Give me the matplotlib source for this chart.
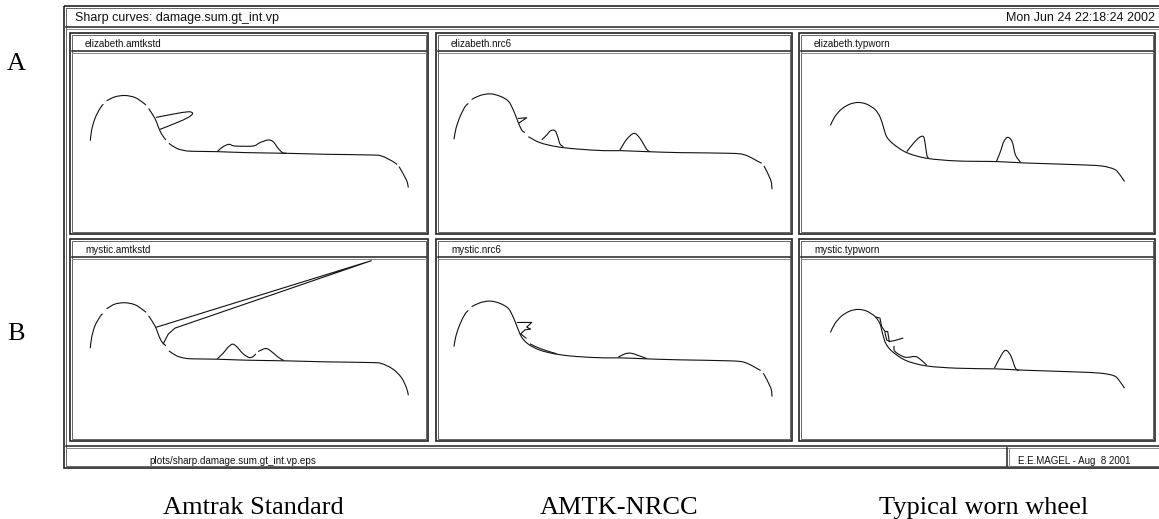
# -*- coding: utf-8 -*-
"""
Sharp curves damage sheet, six wheel/rail profile panels
"""
import matplotlib
matplotlib.use("Agg")
import matplotlib.pyplot as plt
from matplotlib.patches import PathPatch, Rectangle
from matplotlib.path import Path
import numpy as np

nan = np.nan

a1_x = [91, 95, 105, 120, 130, nan, 140, 165, 195, 225, 250, 258, nan, 266, 285, 295, 305, 318, nan, 327, 350, 375, 400, 470, 560, 680, 800, 930, 965, 1000, 1012, nan, 1018, 1040, 1046]
a1_y = [422, 390, 355, 325, 312, nan, 302, 290, 286, 292, 308, 315, nan, 325, 355, 380, 402, 420, nan, 430, 445, 452, 454, 455, 458, 460, 463, 465, 468, 485, 494, nan, 500, 540, 563]
a1_tip_x = [288, 340, 385, 398, 385, 350, 300]
a1_tip_y = [352, 342, 335, 340, 352, 368, 388]
a1_bump_x = [472, 490, 508, 525, 580, 600, 625, 640, 655, 668, 680]
a1_bump_y = [455, 440, 433, 438, 438, 428, 420, 425, 445, 458, 460]

b1_x = [91, 95, 105, 122, 128, nan, 140, 165, 195, 225, 250, 258, nan, 266, 285, 295, 305, 318, nan, 327, 350, 375, 400, 470, 560, 680, 800, 930, 965, 1000, 1025, 1040, 1046]
b1_y = [325, 293, 258, 228, 222, nan, 207, 193, 189, 195, 211, 218, nan, 228, 258, 283, 305, 318, nan, 333, 348, 355, 357, 358, 361, 363, 366, 368, 371, 388, 413, 443, 466]
b1_spike_x = [290, 935, 345, 325, 310]
b1_spike_y = [262, 63, 265, 283, 312]
b1_bump_x = [472, 490, 505, 518, 530, 550, 568, 580, 588, nan, 595, 618, 635, 655, 672]
b1_bump_y = [357, 340, 322, 313, 320, 342, 353, 350, 342, nan, 335, 326, 335, 352, 362]

a2_x = [72, 78, 90, 105, 115, nan, 125, 150, 180, 210, 235, 250, 262, 275, 285, nan, 295, 330, 380, 440, 520, 570, 650, 750, 900, 945, 985, 995, nan, 1002, 1022, 1026]
a2_y = [418, 385, 350, 320, 310, nan, 298, 286, 281, 288, 303, 330, 360, 390, 397, nan, 410, 428, 440, 447, 452, 452, 455, 458, 460, 465, 485, 490, nan, 498, 540, 568]
a2_tip_x = [265, 290, 268]
a2_tip_y = [355, 353, 368]
a2_bump1_x = [335, 350, 362, 375, 383, 390, 400]
a2_bump1_y = [420, 405, 392, 392, 410, 432, 440]
a2_bump2_x = [570, 590, 612, 630, 650, 660]
a2_bump2_y = [450, 418, 400, 415, 448, 455]

b2_x = [72, 78, 90, 105, 115, nan, 125, 150, 180, 210, 235, 250, 262, 275, 295, 330, 380, 440, 520, 570, 650, 750, 900, 945, 985, 992, nan, 1000, 1022, 1026]
b2_y = [320, 288, 253, 223, 212, nan, 201, 189, 184, 191, 206, 233, 263, 292, 313, 331, 343, 350, 354, 354, 357, 360, 363, 368, 388, 392, nan, 400, 443, 470]
b2_tip_x = [262, 305, 290, 302, 285, 272, 288]
b2_tip_y = [248, 248, 262, 268, 270, 282, 295]
b2_bump_x = [565, 585, 603, 625, 650]
b2_bump_y = [352, 342, 340, 347, 356]
b2_wear_x = [300, 330, 380]
b2_wear_y = [312, 326, 342]

a3_x = [122, 135, 155, 180, 205, 230, 255, 270, 280, 290, 310, 350, 410, 500, 620, 700, 850, 930, 970, 985, 1001]
a3_y = [376, 350, 327, 312, 307, 312, 328, 350, 380, 410, 432, 458, 475, 483, 485, 489, 494, 498, 508, 522, 545]
a3_bump1_x = [350, 370, 388, 400, 405, 410, 415]
a3_bump1_y = [455, 430, 412, 410, 430, 465, 475]
a3_bump2_x = [618, 630, 640, 652, 665, 675, 690]
a3_bump2_y = [485, 455, 425, 412, 425, 465, 487]

b3_x = [122, 135, 155, 180, 205, 230, 255, 270, 278, 288, 308, 348, 408, 500, 615, 700, 850, 930, 970, 985, 1001]
b3_y = [278, 252, 229, 214, 209, 214, 230, 252, 282, 312, 336, 362, 378, 385, 387, 391, 396, 400, 408, 422, 445]
b3_tip_x = [258, 270, 275, 285, 293, 298, 315, 338]
b3_tip_y = [232, 235, 260, 275, 275, 305, 302, 295]
b3_tip2_x = [285, 290, 298]
b3_tip2_y = [278, 300, 305]
b3_wear_x = [312, 315, 345, 375, 390, 410]
b3_wear_y = [318, 335, 352, 350, 358, 376]
b3_bump_x = [612, 625, 640, 650, 662, 675, 685]
b3_bump_y = [385, 360, 335, 333, 350, 385, 392]

panel_names = ["elizabeth.amtkstd", "elizabeth.nrc6", "elizabeth.typworn",
               "mystic.amtkstd", "mystic.nrc6", "mystic.typworn"]
## rounded lines
panel_lines = [
    [(a1_x, a1_y), (a1_tip_x, a1_tip_y), (a1_bump_x, a1_bump_y)],
    [(a2_x, a2_y), (a2_bump1_x, a2_bump1_y), (a2_bump2_x, a2_bump2_y)],
    [(a3_x, a3_y), (a3_bump1_x, a3_bump1_y), (a3_bump2_x, a3_bump2_y)],
    [(b1_x, b1_y), (b1_bump_x, b1_bump_y)],
    [(b2_x, b2_y), (b2_bump_x, b2_bump_y), (b2_wear_x, b2_wear_y)],
    [(b3_x, b3_y), (b3_wear_x, b3_wear_y), (b3_bump_x, b3_bump_y)],
]
## lines with sharp corners
panel_edges = [
    [],
    [(a2_tip_x, a2_tip_y)],
    [],
    [(b1_spike_x, b1_spike_y)],
    [(b2_tip_x, b2_tip_y)],
    [(b3_tip_x, b3_tip_y), (b3_tip2_x, b3_tip2_y)],
]
## units shown by each panel: left, right, bottom, top
panel_limits = [(30, 1105, 700, 155), (18, 1086, 700, 155), (28, 1092, 700, 155),
                (30, 1105, 600, 55), (18, 1086, 600, 55), (28, 1092, 600, 55)]
## plot area of each panel in sheet pixels: left, right, bottom, top
panel_boxes = [(70, 428, 233, 52), (436, 792, 233, 52), (799, 1155, 233, 52),
               (70, 428, 440, 258), (436, 792, 440, 258), (799, 1155, 440, 258)]

row_names = ["A", "B"]
captions = ["Amtrak Standard", "AMTK-NRCC", "Typical worn wheel"]

W, H = 1159, 519
plt.rcParams["font.family"] = ["Liberation Sans", "DejaVu Sans"]
fig = plt.figure(figsize=(W / 100, H / 100), dpi=100)

## whole sheet in pixels, frames and labels go here
sheet = fig.add_axes([0, 0, 1, 1])
sheet.set_xlim(0, W)
sheet.set_ylim(H, 0)
sheet.axis("off")


def frame(x0, y0, x1, y1):
    sheet.add_patch(Rectangle((x0, y0), x1 - x0, y1 - y0, fill=False, ec="#222222", lw=1.2))
    sheet.add_patch(Rectangle((x0 + 2, y0 + 2), x1 - x0 - 4, y1 - y0 - 4, fill=False, ec="#666666", lw=0.7))


def rule(x0, x1, y):
    sheet.plot([x0, x1], [y, y], color="#222222", lw=1.1)
    sheet.plot([x0, x1], [y + 2, y + 2], color="#888888", lw=0.7)


def rounded(ax, xs, ys):
    ## bezier through the read points, broken where a nan marks a gap
    xs = np.array(xs, dtype=float)
    ys = np.array(ys, dtype=float)
    breaks = np.where(np.isnan(xs))[0]
    for x, y in zip(np.split(xs, breaks), np.split(ys, breaks)):
        pts = np.column_stack([x, y])
        pts = pts[~np.isnan(pts[:, 0])]
        verts = [pts[0]]
        codes = [Path.MOVETO]
        for k in range(len(pts) - 1):
            before = pts[max(k - 1, 0)]
            after = pts[min(k + 2, len(pts) - 1)]
            verts += [pts[k] + (pts[k + 1] - before) / 6, pts[k + 1] - (after - pts[k]) / 6, pts[k + 1]]
            codes += [Path.CURVE4] * 3
        ax.add_patch(PathPatch(Path(verts, codes), fill=False, ec="#111111", lw=0.8))


## outer sheet runs off the right side of the page
frame(64, 6, 1165, 468)
rule(66, 1159, 27)
rule(66, 1159, 446)
sheet.plot([1007, 1007], [448, 466], color="#222222", lw=1.1)
sheet.plot([1009, 1009], [448, 466], color="#888888", lw=0.7)

sheet.text(75, 21, "Sharp curves: damage.sum.gt_int.vp", fontsize=9.0, ha="left", va="baseline", color="#111111")
sheet.text(1155, 21, "Mon Jun 24 22:18:24 2002", fontsize=9.0, ha="right", va="baseline", color="#111111")
sheet.text(149, 464, "plots/sharp.damage.sum.gt_int.vp.eps", fontsize=7.1, ha="left", va="baseline", color="#111111")
sheet.text(1018, 464, "E.E.MAGEL - Aug  8 2001", fontsize=7.0, ha="left", va="baseline", color="#111111")

for y, name in zip([62, 332], row_names):
    sheet.text(16, y, name, fontsize=19, family="Liberation Serif", ha="center", va="center_baseline")
for x, name in zip([253, 619, 984], captions):
    sheet.text(x, 514, name, fontsize=19, family="Liberation Serif", ha="center", va="baseline")

for i in range(6):
    left, right, bottom, top = panel_boxes[i]
    frame(left, top - 19, right, bottom + 1)
    rule(left + 2, right - 2, top - 1)
    sheet.text(left + 15, top - 5, panel_names[i], fontsize=7.1, ha="left", va="baseline", color="#111111")

    ax = fig.add_axes([left / W, 1 - bottom / H, (right - left) / W, (bottom - top) / H])
    ax.patch.set_alpha(0)
    ax.axis("off")
    for xs, ys in panel_lines[i]:
        rounded(ax, xs, ys)
    for xs, ys in panel_edges[i]:
        ax.plot(xs, ys, color="#111111", lw=0.8)
    lims = panel_limits[i]
    ax.set_xlim(lims[0], lims[1])
    ax.set_ylim(lims[2], lims[3])

fig.savefig("out.png", dpi=100)
